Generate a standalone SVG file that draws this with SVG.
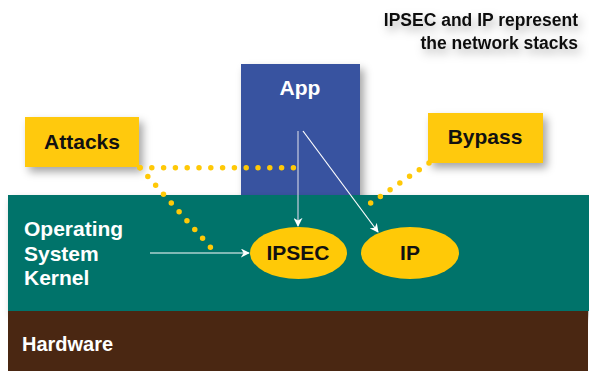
<svg xmlns="http://www.w3.org/2000/svg" width="589" height="371" viewBox="0 0 589 371">
<defs>
<filter id="sh" x="-20%" y="-20%" width="150%" height="160%">
<feDropShadow dx="4" dy="5" stdDeviation="4" flood-color="#000" flood-opacity="0.35"/>
</filter>
<filter id="tsh" x="-10%" y="-30%" width="130%" height="200%">
<feDropShadow dx="3" dy="5" stdDeviation="5" flood-color="#000" flood-opacity="0.3"/>
</filter>
<marker id="ah" viewBox="0 0 10 10" refX="9" refY="5" markerWidth="9" markerHeight="9" markerUnits="userSpaceOnUse" orient="auto">
<path d="M0,0 L10,5 L0,10 L3,5 Z" fill="#fff"/>
</marker>
</defs>
<style>
.lbl{font-family:"Liberation Sans",Arial,sans-serif;font-weight:bold;}
.dk{fill:#111;}
.wt{fill:#fff;}
.dots{fill:none;stroke:#FFC907;stroke-width:5.5;stroke-linecap:round;stroke-dasharray:0 11.8;}
.arr{fill:none;stroke:#fff;stroke-width:1.2;marker-end:url(#ah);}
</style>
<rect width="589" height="371" fill="#fff"/>
<g id="note" filter="url(#tsh)">
<text class="lbl dk" x="578" y="26" font-size="17.5" text-anchor="end">IPSEC and IP represent</text>
<text class="lbl dk" x="578" y="49" font-size="17.5" text-anchor="end">the network stacks</text>
</g>
<g id="app">
<rect x="241" y="64" width="119" height="140" fill="#3752A0" filter="url(#sh)"/>
<text class="lbl wt" x="300" y="95" font-size="21" text-anchor="middle">App</text>
</g>
<g id="attacks">
<rect x="25" y="117" width="114" height="50" fill="#FFC907" filter="url(#sh)"/>
<text class="lbl dk" x="82" y="149" font-size="21" text-anchor="middle">Attacks</text>
</g>
<g id="bypass">
<rect x="428" y="113" width="115" height="50" fill="#FFC907" filter="url(#sh)"/>
<text class="lbl dk" x="485" y="144" font-size="21" text-anchor="middle">Bypass</text>
</g>
<g id="kernel">
<rect x="8" y="195" width="581" height="116" fill="#00736A" filter="url(#sh)"/>
<text class="lbl wt" x="24" y="236" font-size="21">Operating</text>
<text class="lbl wt" x="24" y="261" font-size="21">System</text>
<text class="lbl wt" x="24" y="285" font-size="21">Kernel</text>
</g>
<g id="hardware">
<rect x="8" y="311" width="580" height="60" fill="#4A2712"/>
<text class="lbl wt" x="22" y="351" font-size="20">Hardware</text>
</g>
<g id="connectors">
<path class="dots" d="M140,167.7 L298,167.7"/>
<path class="dots" d="M140,167.7 L212,249"/>
<path class="dots" d="M429,163 L365,207"/>
<path class="arr" d="M298,131 L298,226" style="stroke:#c8cde0"/>
<path class="arr" d="M303,131 L378,232"/>
<path class="arr" d="M150,253 L249,253"/>
</g>
<g id="ipsec">
<ellipse cx="298.5" cy="253" rx="48.5" ry="26" fill="#FFC907"/>
<text class="lbl dk" x="298" y="260" font-size="21" text-anchor="middle">IPSEC</text>
</g>
<g id="ip">
<ellipse cx="410" cy="253" rx="49" ry="26" fill="#FFC907"/>
<text class="lbl dk" x="410" y="260" font-size="21" text-anchor="middle">IP</text>
</g>
</svg>
